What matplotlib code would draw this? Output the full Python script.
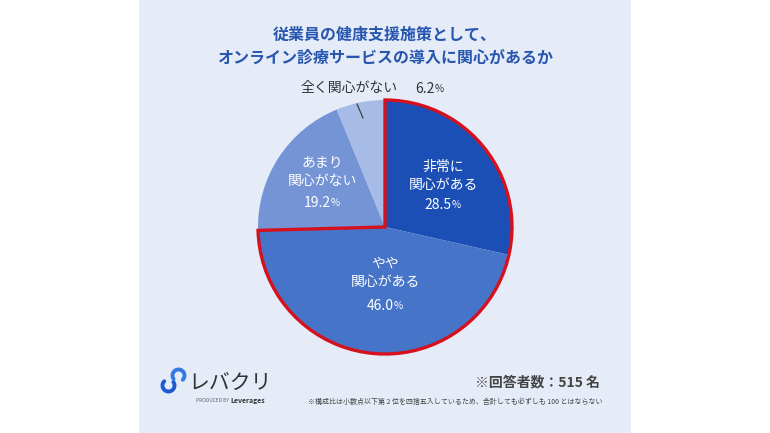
import matplotlib
matplotlib.use("Agg")
import numpy as np
import matplotlib.pyplot as plt
from matplotlib.patches import Wedge, Rectangle, Arc

plt.rcParams['font.family'] = ['Noto Sans CJK JP', 'DejaVu Sans']

# ---- data ----
categories = ["非常に\n関心がある", "やや\n関心がある", "あまり\n関心がない", "全く関心がない"]
values = [28.5, 46.0, 19.2, 6.2]
title_lines = ["従業員の健康支援施策として、", "オンライン診療サービスの導入に関心があるか"]
respondents = "※回答者数：515 名"
footnote = "※構成比は小数点以下第 2 位を四捨五入しているため、合計しても必ずしも 100 とはならない"

colors = ["#1b4fb6", "#4674c8", "#7494d5", "#a6bbe5"]
bg = "#e5ebf7"
H = 433

fig = plt.figure(figsize=(7.7, 4.33), dpi=100)
fig.patch.set_facecolor("white")
ax = fig.add_axes([0, 0, 1, 1])


def Y(py):
    return H - py


# panel
ax.add_patch(Rectangle((139, 0), 492, H, facecolor=bg, edgecolor="none", zorder=0))

# title
ax.text(385, Y(35), title_lines[0], ha="center", va="center", fontsize=11.5,
        fontweight="bold", color="#2756b0")
ax.text(385, Y(58), title_lines[1], ha="center", va="center", fontsize=11.5,
        fontweight="bold", color="#2756b0")

# pie
cx, cy, r = 385, Y(227), 127
wedges, _ = ax.pie(values, colors=colors, startangle=90, counterclock=False,
                   center=(cx, cy), radius=r, frame=True,
                   wedgeprops=dict(linewidth=0))
ax.set_xlim(0, 770)
ax.set_ylim(0, H)
ax.set_aspect("equal")
ax.axis("off")

# red outline around the "interested" share
interested = values[0] + values[1]
theta_end = 90 - interested / sum(values) * 360
ax.add_patch(Wedge((cx, cy), r, theta_end, 90, fill=False, edgecolor="#d7101e",
                   linewidth=2.4, zorder=5))


def pct(x, y, v, color, size=10):
    t = ax.text(x - 5, y, f"{v:.1f}", ha="center", va="center", fontsize=size,
                color=color, zorder=6)
    ax.annotate("%", xy=(1, 0.12), xycoords=t, ha="left", va="bottom",
                fontsize=size * 0.72, color=color, zorder=6)


# inside labels
ax.text(443, Y(176), categories[0], ha="center", va="center", fontsize=10,
        color="white", linespacing=1.35, zorder=6)
pct(443, Y(205), values[0], "white")
ax.text(385, Y(273), categories[1], ha="center", va="center", fontsize=10,
        color="white", linespacing=1.35, zorder=6)
pct(385, Y(306), values[1], "white")
ax.text(322, Y(172), categories[2], ha="center", va="center", fontsize=10,
        color="white", linespacing=1.35, zorder=6)
pct(322, Y(203), values[2], "white")

# outside label
ax.text(349, Y(88), categories[3], ha="center", va="center", fontsize=10,
        color="#333333", zorder=6)
pct(430, Y(89), values[3], "#333333")
ax.plot([357, 363], [Y(104), Y(118)], color="#333333", lw=0.8, zorder=6)

# footer
ax.text(600, Y(383), respondents, ha="right", va="center", fontsize=10,
        fontweight="bold", color="#444444")
ax.text(602, Y(402), footnote, ha="right", va="center", fontsize=5,
        color="#444444")

# logo icon: two interlocking rounded hooks on a diagonal
ax.add_patch(Arc((178.5, Y(375.5)), 12, 12, theta1=-45, theta2=215,
                 color="#3579e2", lw=2.8, capstyle="round", zorder=6))
ax.add_patch(Arc((168.5, Y(385.5)), 12, 12, theta1=135, theta2=395,
                 color="#1d5bd0", lw=2.8, capstyle="round", zorder=6))

ax.text(188, Y(383), "レバクリ", ha="left", va="center", fontsize=15,
        color="#333333")
ax.text(230, Y(400), "PRODUCED BY ", ha="right", va="center", fontsize=3.5,
        color="#666666")
ax.text(230, Y(400), "Leverages", ha="left", va="center", fontsize=5,
        fontweight="bold", color="#333333")

fig.savefig("out.png", dpi=100, facecolor=fig.get_facecolor())
